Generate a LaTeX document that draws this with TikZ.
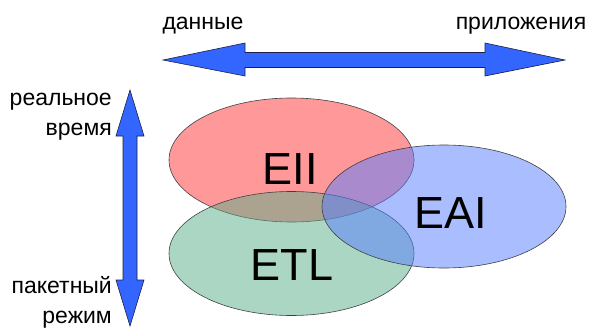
\documentclass[tikz,border=0pt]{standalone}
\usepackage{fontspec}
\setmainfont{Liberation Sans}
\usetikzlibrary{shapes.geometric}
\definecolor{arrowblue}{RGB}{51,102,255}
\definecolor{arrowedge}{RGB}{30,30,70}
\definecolor{redbase}{RGB}{255,51,51}
\definecolor{greenbase}{RGB}{89,173,137}
\definecolor{bluebase}{RGB}{85,125,255}
\begin{document}
\begin{tikzpicture}[x=1pt,y=-1pt,
  bigarrow/.style={fill=arrowblue, draw=arrowedge, line width=0.6pt, line join=miter},
  venn/.style={ellipse, draw=black!75, line width=0.6pt, fill opacity=0.5, inner sep=0pt,
               minimum width=245pt, minimum height=124pt},
  lbl/.style={font=\fontsize{23}{27}\selectfont, inner sep=0pt},
  biglbl/.style={font=\fontsize{45}{50}\selectfont, inner sep=0pt, anchor=base}]
\useasboundingbox (0,0) rectangle (595,327);
% horizontal double arrow
\draw[bigarrow] (163,60) -- (245,43) -- (245,52.5) -- (485,52.5) -- (485,43) -- (565,60)
  -- (485,76) -- (485,67.5) -- (245,67.5) -- (245,76) -- cycle;
% vertical double arrow
\draw[bigarrow] (130,90) -- (144,136) -- (137,136) -- (137,280) -- (144,280) -- (130,326)
  -- (116,280) -- (123,280) -- (123,136) -- (116,136) -- cycle;
% labels
\node[lbl, anchor=base] (data) at (203,29) {данные};
\node[lbl, anchor=base] (apps) at (521,29) {приложения};
\node[lbl, anchor=base east] (rt1) at (112,105) {реальное};
\node[lbl, anchor=base east] (rt2) at (112,135) {время};
\node[lbl, anchor=base east] (bm1) at (112,293) {пакетный};
\node[lbl, anchor=base east] (bm2) at (112,323) {режим};
% ellipses
\node[venn, fill=redbase] (eii) at (291.5,160) {};
\node[venn, fill=greenbase] (etl) at (291.5,253.5) {};
\node[venn, fill=bluebase, minimum width=244pt, minimum height=123pt] (eai) at (444,206.5) {};
\node[biglbl] (eiit) at (290,184) {EII};
\node[biglbl] (eait) at (451,228) {EAI};
\node[biglbl] (etlt) at (292,280) {ETL};
\end{tikzpicture}
\end{document}
